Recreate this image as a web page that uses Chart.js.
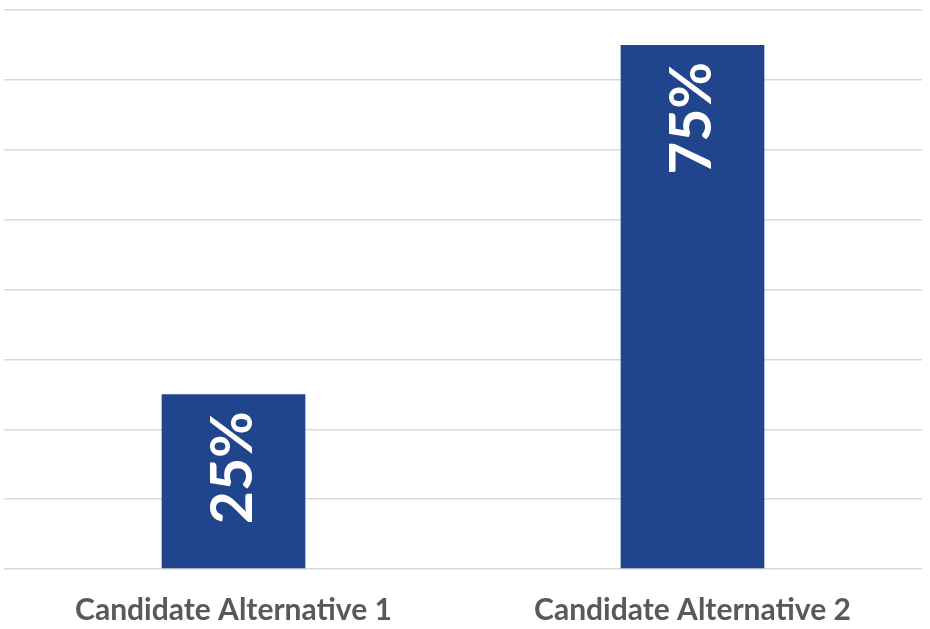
<!DOCTYPE html>
<html>
<head>
<meta charset="utf-8">
<script src="https://cdn.jsdelivr.net/npm/chart.js@4/dist/chart.umd.min.js"></script>
<style>
  html, body { margin: 0; padding: 0; background: #fff; overflow: hidden; }
  canvas { display: block; }
</style>
</head>
<body>
<canvas id="chart" width="930" height="629"></canvas>
<script>
// chart data
const categories = ['Candidate Alternative 1', 'Candidate Alternative 2'];
const shares = [25, 75];
const yMax = 80;
const yStep = 10;

// draw the value rotated inside the top of each bar
const barValueLabels = {
  id: 'barValueLabels',
  afterDatasetsDraw(chart) {
    const ctx = chart.ctx;
    const meta = chart.getDatasetMeta(0);
    ctx.save();
    ctx.fillStyle = '#ffffff';
    ctx.font = 'bold 57px Lato, "Open Sans", sans-serif';
    ctx.textAlign = 'right';
    ctx.textBaseline = 'middle';
    meta.data.forEach((bar, i) => {
      ctx.save();
      ctx.translate(bar.x, bar.y + 17);
      ctx.rotate(-Math.PI / 2);
      ctx.fillText(shares[i] + '%', 0, 0);
      ctx.restore();
    });
    ctx.restore();
  }
};

new Chart(document.getElementById('chart'), {
  type: 'bar',
  data: {
    labels: categories,
    datasets: [{
      data: shares,
      backgroundColor: '#21458c',
      categoryPercentage: 1,
      barPercentage: 0.313,
    }]
  },
  options: {
    responsive: false,
    animation: false,
    devicePixelRatio: 1,
    layout: { padding: { left: 4, right: 8, top: 10, bottom: 0 } },
    plugins: { legend: { display: false }, tooltip: { enabled: false } },
    scales: {
      x: {
        grid: { display: false },
        border: { display: false },
        afterFit(scale) { scale.height = 60; },
        ticks: {
          color: '#595959',
          padding: 15,
          font: { family: 'Lato, "Open Sans", sans-serif', size: 30, weight: 'bold' }
        }
      },
      y: {
        min: 0,
        max: yMax,
        border: { display: false },
        grid: { color: '#d9d9d9', lineWidth: 1.5, drawTicks: false },
        ticks: { display: false, stepSize: yStep }
      }
    }
  },
  plugins: [barValueLabels]
});
</script>
</body>
</html>
